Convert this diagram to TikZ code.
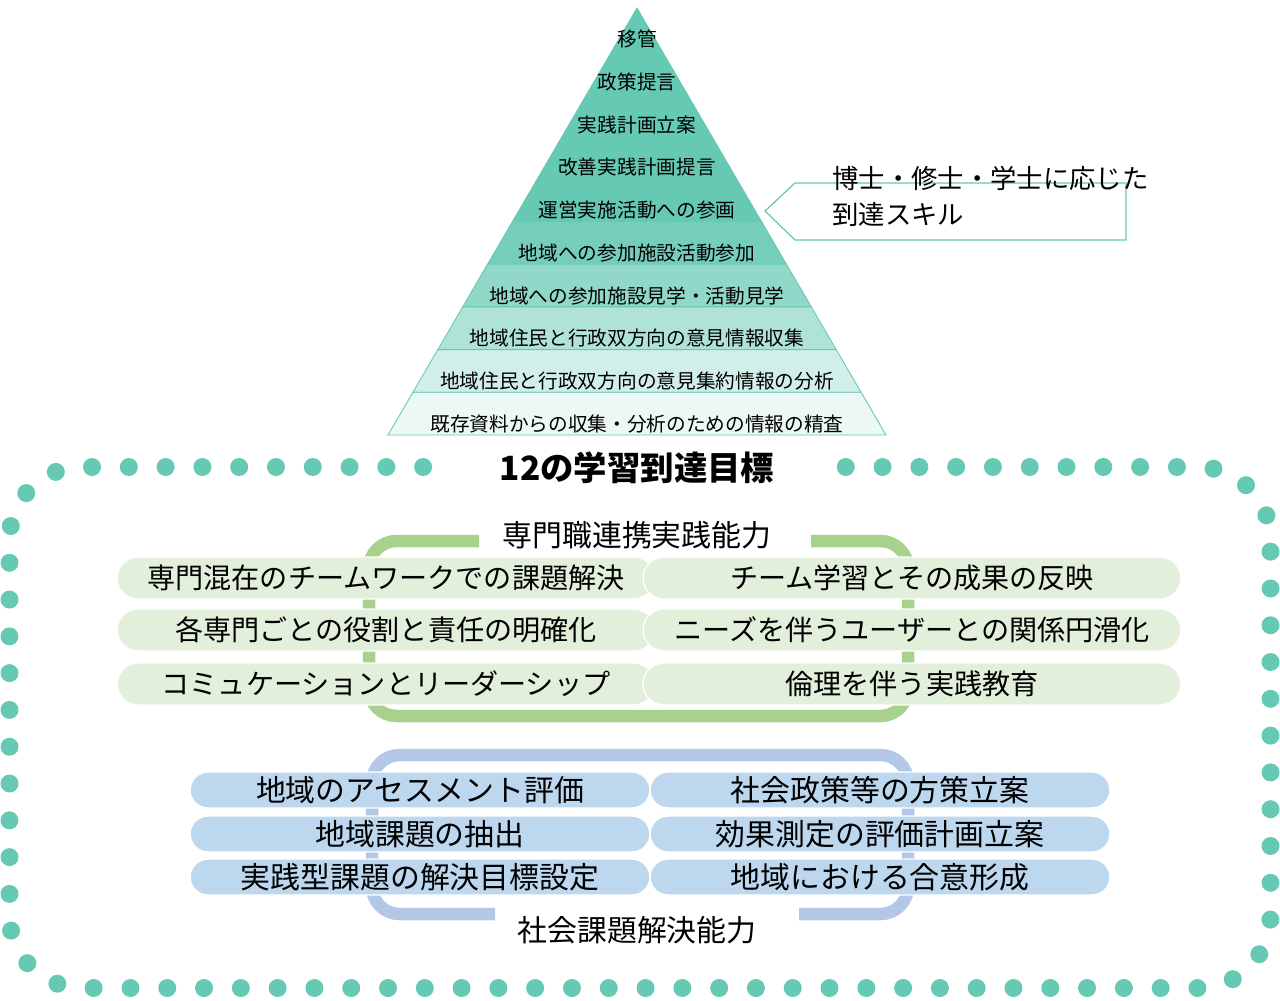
\documentclass[tikz,border=0pt]{standalone}
\usepackage{fontspec}
\setmainfont{Noto Sans CJK JP}
\usepackage{xcolor}
\usepackage{tikz}
\usetikzlibrary{positioning, calc}
\definecolor{mint}{RGB}{102,201,179}
\definecolor{ipline}{RGB}{169,209,142}
\definecolor{ipfill}{RGB}{226,239,218}
\definecolor{scline}{RGB}{180,199,231}
\definecolor{scfill}{RGB}{189,215,238}
\tikzset{
  band/.style    = {draw=mint, line width=0.5pt},
  lvl/.style     = {font=\fontsize{11.2}{13}\selectfont, inner sep=0pt},
  dotline/.style = {draw=mint, line width=0.36cm, line cap=round,
                    dash pattern=on 0pt off 0.736cm, rounded corners=1.45cm},
  callout/.style = {draw=mint, fill=white, line width=0.7pt},
  pill/.style    = {rectangle, draw=white, line width=0.8pt, inner sep=0pt,
                    align=center},
  ippill/.style  = {pill, fill=ipfill, minimum width=10.76cm,
                    minimum height=0.84cm, rounded corners=0.42cm,
                    font=\fontsize{16}{18}\selectfont},
  scpill/.style  = {pill, fill=scfill, minimum width=9.2cm,
                    minimum height=0.72cm, rounded corners=0.36cm,
                    font=\fontsize{17}{19}\selectfont},
  bracket/.style = {line width=0.25cm, rounded corners=0.55cm},
  grptitle/.style = {font=\fontsize{17}{19}\selectfont, inner sep=1pt},
}

\begin{document}
\begin{tikzpicture}[x=0.02cm, y=-0.02cm]
  \useasboundingbox (0,0) rectangle (1280,1000);

  % Pyramid - ten levels
  \draw[band, fill=mint]    (637,8) -- (661.9,50.7) -- (612.1,50.7) -- cycle;
  \draw[band, fill=mint]    (612.1,50.7) -- (661.9,50.7) -- (686.8,93.4) -- (587.2,93.4) -- cycle;
  \draw[band, fill=mint]    (587.2,93.4) -- (686.8,93.4) -- (711.7,136.1) -- (562.3,136.1) -- cycle;
  \draw[band, fill=mint]    (562.3,136.1) -- (711.7,136.1) -- (736.6,178.8) -- (537.4,178.8) -- cycle;
  \draw[band, fill=mint]    (537.4,178.8) -- (736.6,178.8) -- (761.5,221.5) -- (512.5,221.5) -- cycle;
  \draw[band, fill=mint!90] (512.5,221.5) -- (761.5,221.5) -- (786.4,264.2) -- (487.6,264.2) -- cycle;
  \draw[band, fill=mint!72] (487.6,264.2) -- (786.4,264.2) -- (811.3,306.9) -- (462.7,306.9) -- cycle;
  \draw[band, fill=mint!52] (462.7,306.9) -- (811.3,306.9) -- (836.2,349.6) -- (437.8,349.6) -- cycle;
  \draw[band, fill=mint!30] (437.8,349.6) -- (836.2,349.6) -- (861.1,392.3) -- (412.9,392.3) -- cycle;
  \draw[band, fill=mint!13] (412.9,392.3) -- (861.1,392.3) -- (886,435) -- (388,435) -- cycle;

  \node[lvl] (lv10) at (637,39)  {移管};
  \node[lvl] (lv9)  at (637,82)  {政策提言};
  \node[lvl] (lv8)  at (637,125) {実践計画立案};
  \node[lvl] (lv7)  at (637,167) {改善実践計画提言};
  \node[lvl] (lv6)  at (637,210) {運営実施活動への参画};
  \node[lvl] (lv5)  at (637,253) {地域への参加施設活動参加};
  \node[lvl] (lv4)  at (637,296) {地域への参加施設見学・活動見学};
  \node[lvl] (lv3)  at (637,338) {地域住民と行政双方向の意見情報収集};
  \node[lvl] (lv2)  at (637,381) {地域住民と行政双方向の意見集約情報の分析};
  \node[lvl] (lv1)  at (637,424) {既存資料からの収集・分析のための情報の精査};

  % Callout
  \draw[callout] (765,211) -- (795,183) -- (1126,183) -- (1126,240) -- (795,240) -- cycle;
  \node[anchor=west, align=left, inner sep=0pt,
        font=\fontsize{15}{20.5}\selectfont] (skill) at (832,196)
    {博士・修士・学士に応じた\\到達スキル};

  % Dotted frame and title (path starts and ends under the title)
  \draw[dotline] (625,467) -- (1270.5,467) -- (1270.5,988) -- (9.5,988) -- (9.5,467) -- (625,467);
  \node[fill=white, inner sep=0pt, minimum width=7.84cm, minimum height=0.8cm,
        font=\fontsize{19}{21}\selectfont\bfseries] (goal) at (637,468) {12の学習到達目標};

  % Interprofessional practice
  \draw[bracket, ipline] (479,541) -- (369,541) -- (369,716) -- (908,716) -- (908,541) -- (811,541);
  \node[grptitle] (ipTitle) at (637,535) {専門職連携実践能力};
  \node[ippill] (ip1) at (386,578) {専門混在のチームワークでの課題解決};
  \node[ippill] (ip2) at (386,630) {各専門ごとの役割と責任の明確化};
  \node[ippill] (ip3) at (386,684) {コミュケーションとリーダーシップ};
  \node[ippill] (ip4) at (912,578) {チーム学習とその成果の反映};
  \node[ippill] (ip5) at (912,630) {ニーズを伴うユーザーとの関係円滑化};
  \node[ippill] (ip6) at (912,684) {倫理を伴う実践教育};

  % Social problem solving
  \draw[bracket, scline] (495,914) -- (372,914) -- (372,755) -- (908,755) -- (908,914) -- (799,914);
  \node[scpill] (sc1) at (420,790) {地域のアセスメント評価};
  \node[scpill] (sc2) at (420,834) {地域課題の抽出};
  \node[scpill] (sc3) at (420,877) {実践型課題の解決目標設定};
  \node[scpill] (sc4) at (880,790) {社会政策等の方策立案};
  \node[scpill] (sc5) at (880,834) {効果測定の評価計画立案};
  \node[scpill] (sc6) at (880,877) {地域における合意形成};
  \node[grptitle] (scTitle) at (637,930) {社会課題解決能力};
\end{tikzpicture}
\end{document}
